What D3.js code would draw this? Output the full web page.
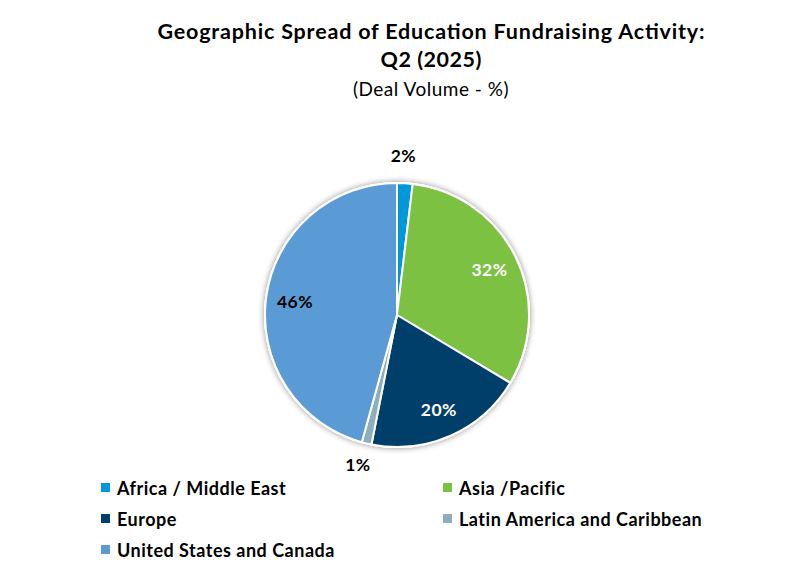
<!DOCTYPE html>
<html><head><meta charset="utf-8">
<script src="https://cdn.jsdelivr.net/npm/d3@7"></script>
<style>body{margin:0;background:#fff;} svg{display:block;font-family:Lato,"Open Sans",sans-serif;}</style>
</head><body>
<svg id="c" width="795" height="568"></svg>
<script>
const categories = ["Africa / Middle East","Asia /Pacific","Europe","Latin America and Caribbean","United States and Canada"];
const values = [1.9, 31.7, 19.5, 1.2, 45.7];
const labels = ["2%","32%","20%","1%","46%"];
const colors = ["#0098D8","#7DC143","#003F6A","#8DAEBF","#5B9BD5"];
const labelColors = ["#000","#fff","#fff","#000","#000"];

const svg = d3.select("#c");
const cx = 397, cy = 315, r = 132;

// titles
svg.append("text").attr("x",431).attr("y",39).attr("text-anchor","middle")
  .attr("font-weight","bold").attr("font-size",21.5).attr("fill","#000")
  .attr("textLength",547).attr("lengthAdjust","spacing")
  .text("Geographic Spread of Education Fundraising Activity:");
svg.append("text").attr("x",431).attr("y",67).attr("text-anchor","middle")
  .attr("font-weight","bold").attr("font-size",21.5).attr("fill","#000")
  .attr("textLength",101).attr("lengthAdjust","spacing")
  .text("Q2 (2025)");
svg.append("text").attr("x",431).attr("y",96).attr("text-anchor","middle")
  .attr("font-size",19).attr("letter-spacing",0.5).attr("fill","#000")
  .text("(Deal Volume - %)");

const defs = svg.append("defs");
const f = defs.append("filter").attr("id","sh").attr("x","-20%").attr("y","-20%").attr("width","140%").attr("height","140%");
f.append("feGaussianBlur").attr("in","SourceAlpha").attr("stdDeviation",3).attr("result","b");
f.append("feComponentTransfer").attr("in","b").attr("result","o2")
  .append("feFuncA").attr("type","linear").attr("slope",0.45);
const fm = f.append("feMerge");
fm.append("feMergeNode").attr("in","o2");
fm.append("feMergeNode").attr("in","SourceGraphic");

const pie = d3.pie().sort(null).value(d=>d);
const arcs = pie(values);
const arc = d3.arc().innerRadius(0).outerRadius(r);

const g = svg.append("g").attr("transform",`translate(${cx},${cy})`);
g.append("circle").attr("r",r+1).attr("fill","#fff").attr("filter","url(#sh)");
g.selectAll("path").data(arcs).join("path")
  .attr("d",arc).attr("fill",(d,i)=>colors[i])
  .attr("stroke","#fff").attr("stroke-width",2).attr("stroke-linejoin","round");

// labels
const inArc = d3.arc().innerRadius(r*0.78).outerRadius(r*0.78);
const outArc = d3.arc().innerRadius(r+25).outerRadius(r+25);
g.selectAll("text.l").data(arcs).join("text").attr("class","l")
  .attr("text-anchor","middle").attr("dominant-baseline","central")
  .attr("font-weight","bold").attr("font-size",17.5).attr("letter-spacing",0.4)
  .attr("fill",(d,i)=>labelColors[i])
  .attr("transform",(d,i)=>{
    const small = values[i] < 5;
    const p = (small ? outArc : inArc).centroid(d);
    return `translate(${p[0]-(small?3:0)},${p[1]-(small?3:0)})`;
  })
  .text((d,i)=>labels[i]);

// legend
const legPos = [[101,488],[443,488],[101,519],[443,519],[101,550]];
const lg = svg.append("g");
categories.forEach((c,i)=>{
  const [x,y] = legPos[i];
  lg.append("rect").attr("x",x).attr("y",y-5).attr("width",9).attr("height",9).attr("fill",colors[i]);
  lg.append("text").attr("x",x+16).attr("y",y).attr("dominant-baseline","central")
    .attr("font-weight","bold").attr("font-size",18).attr("letter-spacing",0.5)
    .attr("fill","#000").text(c);
});
</script>
</body></html>
